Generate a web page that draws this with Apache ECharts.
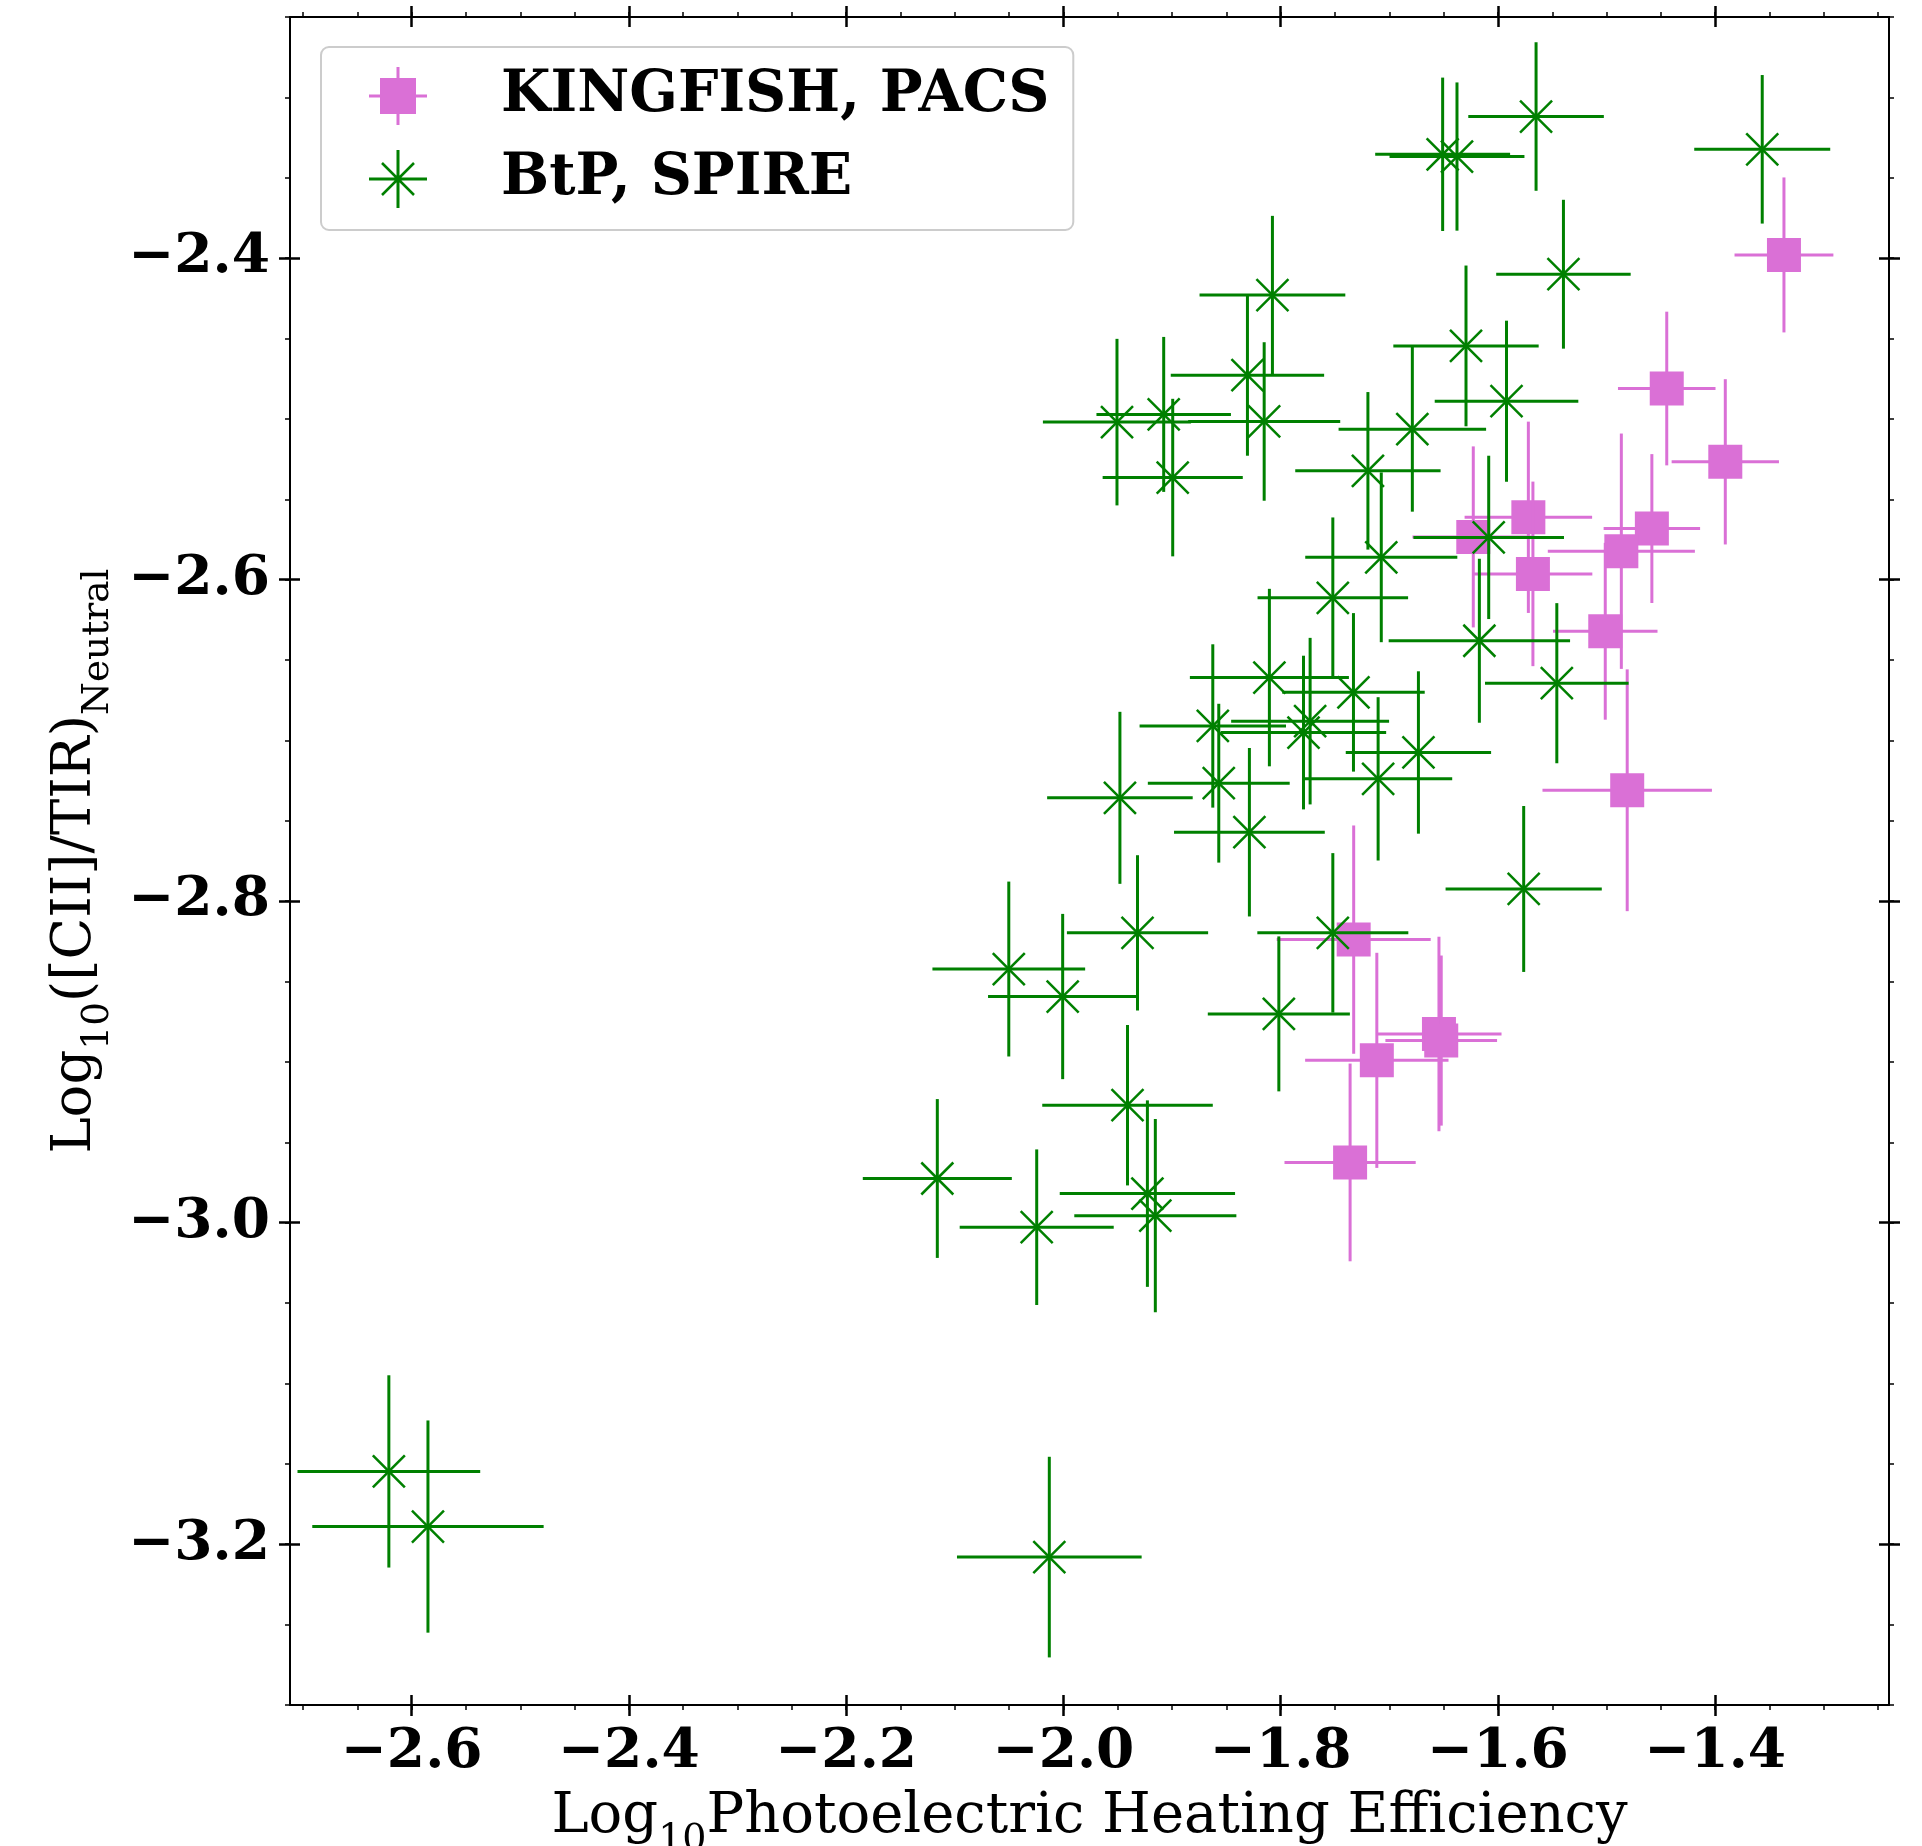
<!DOCTYPE html>
<html>
<head>
<meta charset="utf-8">
<script src="https://cdn.jsdelivr.net/npm/echarts@6/dist/echarts.min.js"></script>
<style>
html,body{margin:0;padding:0;background:#ffffff;}
#chart{width:1922px;height:1846px;}
</style>
</head>
<body>
<div id="chart"></div>
<script>
// ---------------- data ----------------
// KINGFISH, PACS
const kfX    = [-1.3367, -1.4446, -1.3907, -1.5720, -1.6227, -1.4583, -1.4864, -1.5678, -1.5012, -1.4810, -1.7328, -1.7115, -1.6543, -1.6522, -1.7361];
const kfY    = [-2.3980, -2.4811, -2.5267, -2.5612, -2.5734, -2.5682, -2.5823, -2.5964, -2.6321, -2.7310, -2.8239, -2.8990, -2.8826, -2.8867, -2.9625];
const kfXErr = [0.0455, 0.0449, 0.0494, 0.0587, 0.0560, 0.0444, 0.0677, 0.0547, 0.0481, 0.0780, 0.0709, 0.0660, 0.0576, 0.0514, 0.0604];
const kfYErr = [0.0482, 0.0478, 0.0514, 0.0595, 0.0563, 0.0463, 0.0732, 0.0574, 0.0550, 0.0752, 0.0710, 0.0669, 0.0605, 0.0529, 0.0615];

// BtP, SPIRE
const btX    = [-2.6210, -2.5850, -2.0130, -2.1161, -2.0246, -1.9227, -1.9154, -1.9410, -2.0503, -2.0007, -1.9318, -1.8017, -1.7520, -1.9480, -1.8288, -1.8570, -1.8076, -1.8306, -1.8152, -1.9507, -1.9077, -1.8994, -1.7520, -1.8104, -1.8625, -1.7790, -1.7729, -1.7330, -1.6732, -1.7103, -1.5763, -1.6085, -1.6171, -1.5458, -1.7197, -1.7074, -1.6788, -1.6294, -1.5921, -1.5397, -1.6509, -1.6377, -1.5649, -1.3567];
const btY    = [-3.1547, -3.1890, -3.2080, -2.9725, -3.0028, -2.9819, -2.9956, -2.9269, -2.8422, -2.8593, -2.8197, -2.8701, -2.8197, -2.7357, -2.7571, -2.7266, -2.4230, -2.4728, -2.5016, -2.5020, -2.4972, -2.5365, -2.6113, -2.6609, -2.6910, -2.6951, -2.6880, -2.6701, -2.7075, -2.7239, -2.7924, -2.5737, -2.6380, -2.6644, -2.5323, -2.5861, -2.5064, -2.4546, -2.4890, -2.4100, -2.3354, -2.3368, -2.3119, -2.3323];
const btXErr = [0.0841, 0.1065, 0.0850, 0.0686, 0.0709, 0.0807, 0.0746, 0.0785, 0.0703, 0.0687, 0.0650, 0.0654, 0.0695, 0.0670, 0.0694, 0.0653, 0.0671, 0.0706, 0.0700, 0.0682, 0.0619, 0.0645, 0.0693, 0.0732, 0.0674, 0.0761, 0.0727, 0.0656, 0.0669, 0.0682, 0.0719, 0.0693, 0.0835, 0.0661, 0.0669, 0.0700, 0.0679, 0.0669, 0.0661, 0.0619, 0.0621, 0.0621, 0.0624, 0.0626];
const btYErr = [0.0598, 0.0660, 0.0624, 0.0494, 0.0484, 0.0580, 0.0601, 0.0499, 0.0544, 0.0514, 0.0483, 0.0482, 0.0496, 0.0535, 0.0524, 0.0494, 0.0493, 0.0501, 0.0493, 0.0518, 0.0482, 0.0490, 0.0500, 0.0552, 0.0508, 0.0478, 0.0518, 0.0493, 0.0505, 0.0508, 0.0516, 0.0508, 0.0510, 0.0498, 0.0490, 0.0528, 0.0513, 0.0500, 0.0501, 0.0463, 0.0477, 0.0461, 0.0462, 0.0462];

// axes
const xTickValues = [-2.6, -2.4, -2.2, -2.0, -1.8, -1.6, -1.4];
const xTickLabels = ['−2.6', '−2.4', '−2.2', '−2.0', '−1.8', '−1.6', '−1.4'];
const yTickValues = [-3.2, -3.0, -2.8, -2.6, -2.4];
const yTickLabels = ['−3.2', '−3.0', '−2.8', '−2.6', '−2.4'];
const X_MIN = -2.712, X_MAX = -1.24;
const Y_MIN = -3.3, Y_MAX = -2.25;
const seriesNames = ['KINGFISH, PACS', 'BtP, SPIRE'];

// minor ticks every 0.05
const xMinor = [];
for (let i = -54; i <= -25; i++) xMinor.push(+(i * 0.05).toFixed(2));
const yMinor = [];
for (let i = -66; i <= -45; i++) yMinor.push(+(i * 0.05).toFixed(2));

// ---------------- style ----------------
const PINK = '#DA70D6';
const GREEN = '#008000';
const SERIF = "'DejaVu Serif', serif";
const TICK_FONT = 55;

function labelFor(values, labels) {
  return function (v) {
    for (let i = 0; i < values.length; i++) if (Math.abs(values[i] - v) < 1e-6) return labels[i];
    return '';
  };
}

function mkAxis(dim, position, role) {
  const major = dim === 'x' ? xTickValues : yTickValues;
  const minor = dim === 'x' ? xMinor : yMinor;
  const o = {
    type: 'value',
    position: position,
    min: dim === 'x' ? X_MIN : Y_MIN,
    max: dim === 'x' ? X_MAX : Y_MAX,
    scale: true,
    splitLine: { show: false },
    axisLine: { show: false, onZero: false },
    axisLabel: { show: false },
    axisTick: { show: false },
    axisPointer: { show: false }
  };
  if (role === 'main') {
    o.axisLine = { show: true, onZero: false, lineStyle: { color: '#000', width: 2 } };
    o.axisTick = { show: true, inside: false, length: 11, customValues: major, lineStyle: { color: '#000', width: 2.5 } };
    o.axisLabel = { show: false, customValues: major };
  } else if (role === 'in') {
    o.axisTick = { show: true, inside: true, length: 10, customValues: major, lineStyle: { color: '#000', width: 2.5 } };
    o.axisLabel = { show: false, customValues: major };
  } else if (role === 'minor') {
    o.axisTick = { show: true, inside: false, length: 5, customValues: minor, lineStyle: { color: '#000', width: 1.5 } };
    o.axisLabel = { show: false, customValues: minor };
  }
  return o;
}

const xAxes = [
  mkAxis('x', 'bottom', 'main'), mkAxis('x', 'bottom', 'in'), mkAxis('x', 'bottom', 'minor'),
  mkAxis('x', 'top', 'main'), mkAxis('x', 'top', 'in'), mkAxis('x', 'top', 'minor')
];
const yAxes = [
  mkAxis('y', 'left', 'main'), mkAxis('y', 'left', 'in'), mkAxis('y', 'left', 'minor'),
  mkAxis('y', 'right', 'main'), mkAxis('y', 'right', 'in'), mkAxis('y', 'right', 'minor')
];

// labels + names on the bottom / left main axes
xAxes[0].axisLabel = {
  show: true, customValues: xTickValues, formatter: labelFor(xTickValues, xTickLabels),
  margin: 20, fontFamily: SERIF, fontWeight: 'bold', fontSize: TICK_FONT, color: '#000'
};
xAxes[0].name = '{a|Log}{s|10}{a|Photoelectric Heating Efficiency}';
xAxes[0].nameLocation = 'middle';
xAxes[0].nameGap = 84;
xAxes[0].nameTextStyle = {
  rich: {
    a: { fontFamily: SERIF, fontSize: 56, color: '#000', verticalAlign: 'bottom', padding: [0, 0, 14, 0] },
    s: { fontFamily: SERIF, fontSize: 38, color: '#000', verticalAlign: 'bottom', padding: [0, 0, 0, 0] }
  }
};

yAxes[0].axisLabel = {
  show: true, customValues: yTickValues, formatter: labelFor(yTickValues, yTickLabels),
  margin: 20, fontFamily: SERIF, fontWeight: 'bold', fontSize: TICK_FONT, color: '#000'
};
yAxes[0].name = '{a|Log}{s|10}{a|([CII]/TIR)}{s|Neutral}';
yAxes[0].nameLocation = 'middle';
yAxes[0].nameRotate = 90;
yAxes[0].nameGap = 167;
yAxes[0].nameTextStyle = {
  rich: {
    a: { fontFamily: SERIF, fontSize: 54.5, color: '#000', verticalAlign: 'bottom', padding: [0, 0, 14, 0] },
    s: { fontFamily: SERIF, fontSize: 37.5, color: '#000', verticalAlign: 'bottom', padding: [0, 0, 0, 0] }
  }
};

// ---------------- marks ----------------
function renderErr(kind) {
  return function (params, api) {
    const x = api.value(0), y = api.value(1), xe = api.value(2), ye = api.value(3);
    const c = api.coord([x, y]);
    const l = api.coord([x - xe, y]);
    const r = api.coord([x + xe, y]);
    const t = api.coord([x, y + ye]);
    const b = api.coord([x, y - ye]);
    const color = kind === 'kf' ? PINK : GREEN;
    const children = [
      { type: 'line', shape: { x1: l[0], y1: l[1], x2: r[0], y2: r[1] }, style: { stroke: color, lineWidth: 3 } },
      { type: 'line', shape: { x1: t[0], y1: t[1], x2: b[0], y2: b[1] }, style: { stroke: color, lineWidth: 3 } }
    ];
    if (kind === 'kf') {
      children.push({ type: 'rect', shape: { x: c[0] - 17, y: c[1] - 17, width: 34, height: 34 }, style: { fill: color } });
    } else {
      const d = 16;
      children.push({ type: 'line', shape: { x1: c[0] - d, y1: c[1] - d, x2: c[0] + d, y2: c[1] + d }, style: { stroke: color, lineWidth: 2.5 } });
      children.push({ type: 'line', shape: { x1: c[0] - d, y1: c[1] + d, x2: c[0] + d, y2: c[1] - d }, style: { stroke: color, lineWidth: 2.5 } });
    }
    return { type: 'group', children: children };
  };
}

const kfData = kfX.map((v, i) => [v, kfY[i], kfXErr[i], kfYErr[i]]);
const btData = btX.map((v, i) => [v, btY[i], btXErr[i], btYErr[i]]);

const ICON_KF = 'path://M0 27.5L58 27.5L58 30.5L0 30.5Z M27.5 0L30.5 0L30.5 58L27.5 58Z M11 11L47 11L47 47L11 47Z';
const ICON_BT = 'path://M0 27.5L58 27.5L58 30.5L0 30.5Z M27.5 0L30.5 0L30.5 58L27.5 58Z M12.1 13.9L13.9 12.1L45.9 44.1L44.1 45.9Z M44.1 12.1L45.9 13.9L13.9 45.9L12.1 44.1Z';

const option = {
  backgroundColor: '#ffffff',
  animation: false,
  grid: { left: 290, right: 33, top: 17, bottom: 141, containLabel: false, outerBoundsMode: 'none' },
  xAxis: xAxes,
  yAxis: yAxes,
  legend: {
    orient: 'vertical',
    left: 321,
    top: 47,
    padding: [20, 24, 22, 48],
    itemWidth: 58,
    itemHeight: 58,
    itemGap: 25,
    backgroundColor: 'rgba(255,255,255,0.8)',
    borderColor: '#cccccc',
    borderWidth: 2,
    borderRadius: 8,
    textStyle: { fontFamily: SERIF, fontWeight: 'bold', fontSize: 57, color: '#000', padding: [0, 0, 0, 69] },
    data: [
      { name: seriesNames[0], icon: ICON_KF },
      { name: seriesNames[1], icon: ICON_BT }
    ]
  },
  series: [
    {
      name: seriesNames[0], type: 'custom', xAxisIndex: 0, yAxisIndex: 0,
      itemStyle: { color: PINK }, renderItem: renderErr('kf'),
      encode: { x: 0, y: 1 }, data: kfData, z: 2
    },
    {
      name: seriesNames[1], type: 'custom', xAxisIndex: 0, yAxisIndex: 0,
      itemStyle: { color: GREEN }, renderItem: renderErr('bt'),
      encode: { x: 0, y: 1 }, data: btData, z: 3
    }
  ]
};

const chart = echarts.init(document.getElementById('chart'), null, { renderer: 'canvas' });
chart.setOption(option);
</script>
</body>
</html>
